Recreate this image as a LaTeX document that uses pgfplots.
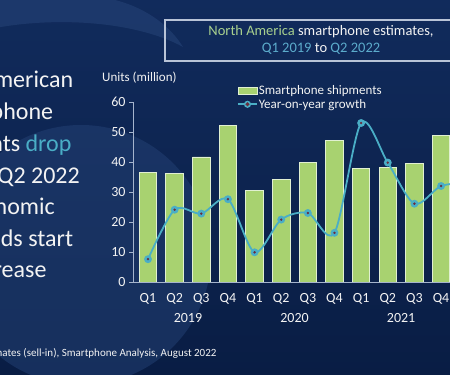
\documentclass[border=0pt]{standalone}
\usepackage{pgfplots}
\usepackage{pgfplotstable}
\pgfplotsset{compat=1.18}
\usepackage{fontspec}
\setmainfont{Carlito}
\definecolor{bgtop}{RGB}{17,43,92}
\definecolor{bgbot}{RGB}{9,29,68}
\definecolor{bglight}{RGB}{36,66,118}
\definecolor{barg}{RGB}{168,210,112}
\definecolor{barb}{RGB}{225,240,210}
\definecolor{tealc}{RGB}{74,174,198}
\definecolor{dotc}{RGB}{105,45,62}
\definecolor{axc}{RGB}{165,180,205}
\definecolor{titlegreen}{RGB}{168,208,142}
\definecolor{titleblue}{RGB}{92,172,204}
\definecolor{boxc}{RGB}{185,196,215}
\definecolor{txt}{RGB}{243,243,243}

\pgfplotstableread{
x ship
0 36.4
1 36.1
2 41.7
3 52.3
4 30.6
5 34.1
6 39.8
7 47.2
8 37.9
9 38.3
10 39.5
11 49.0
}\shipdata

\pgfplotstableread{
x yoy
0 7.6
1 24.1
2 22.8
3 27.6
4 9.9
5 20.8
6 23.0
7 16.4
8 53.0
9 39.8
10 26.1
11 32.0
12 33.0
}\yoydata

\begin{document}
\begin{tikzpicture}[x=1pt,y=1pt]
\useasboundingbox (0,0) rectangle (450,375);
\clip (0,0) rectangle (450,375);
\fill[top color=bgtop, bottom color=bgbot] (0,0) rectangle (450,375);
\fill[bglight, opacity=0.5] (81,120) circle (130);
\fill[bglight, opacity=0.6] (-10,375) -- (115,375) .. controls (150,366) and (172,346) .. (183,328) .. controls (140,352) and (60,360) .. (-10,346) -- cycle;

\begin{axis}[
  at={(133pt,93pt)}, anchor=south west,
  scale only axis, width=334.7pt, height=180pt,
  xmin=-0.563, xmax=12, ymin=0, ymax=60,
  clip mode=individual,
  axis x line*=bottom, axis y line*=left,
  axis line style={draw=axc, line width=0.9pt},
  ytick={0,10,...,60},
  tick align=outside, major tick length=4pt,
  ytick style={draw=axc, line width=0.8pt},
  xtick={0,...,11},
  xticklabels={Q1,Q2,Q3,Q4,Q1,Q2,Q3,Q4,Q1,Q2,Q3,Q4},
  xtick style={draw=none},
  ticklabel style={font=\fontsize{14}{16}\selectfont, text=txt},
  xticklabel style={anchor=base, yshift=-17pt},
  /pgf/number format/assume math mode=true,
  legend style={at={(0.3107,1.1)}, anchor=north west, draw=none, fill=none,
    font=\fontsize{13}{14}\selectfont, text=txt, inner sep=0pt, row sep=1.3pt,
    nodes={inner sep=1pt},
    /tikz/every odd column/.append style={column sep=0pt}},
  legend cell align=left,
]
\addplot[ybar, bar width=17.5pt, fill=barg, draw=barb, line width=0.8pt,
  legend image code/.code={\draw[fill=barg, draw=barb, line width=0.6pt] (0pt,-3.5pt) rectangle (19pt,3.5pt);}]
  table[x=x,y=ship] {\shipdata};
\addlegendentry{Smartphone shipments}
\addplot[smooth, tension=0.5, tealc, line width=1.8pt, mark=*, mark size=3pt,
  mark options={fill=tealc, draw=tealc},
  legend image code/.code={\draw[tealc, line width=1.6pt] (0pt,0pt) -- (19pt,0pt); \fill[tealc] (9.5pt,0pt) circle (2.6pt); \fill[dotc] (9.5pt,0pt) circle (0.9pt);}]
  table[x=x,y=yoy] {\yoydata};
\addlegendentry{Year-on-year growth}
\addplot[only marks, mark=*, mark size=1.0pt, dotc, forget plot] table[x=x,y=yoy] {\yoydata};
\node[font=\fontsize{14}{16}\selectfont, text=txt, anchor=base] at (axis cs:1.5,0) [yshift=-41pt] {2019};
\node[font=\fontsize{14}{16}\selectfont, text=txt, anchor=base] at (axis cs:5.5,0) [yshift=-41pt] {2020};
\node[font=\fontsize{14}{16}\selectfont, text=txt, anchor=base] at (axis cs:9.5,0) [yshift=-41pt] {2021};
\end{axis}

% units label
\node[font=\fontsize{13}{15}\selectfont, text=txt, anchor=base west, inner sep=0pt] at (102,293.3) {Units (million)};

% title box
\draw[boxc, line width=1.1pt] (165,314) rectangle (478,355);
\node[font=\fontsize{14.5}{17}\selectfont, text=txt, anchor=base, inner sep=0pt] at (321,339.3) {\textcolor{titlegreen}{North America} smartphone estimates,};
\node[font=\fontsize{14.5}{17}\selectfont, text=txt, anchor=base, inner sep=0pt] at (321,322.7) {\textcolor{titleblue}{Q1 2019} to \textcolor{titleblue}{Q2 2022}};

% headline (cropped on left)
\begin{scope}[every node/.style={font=\fontsize{24}{28}\selectfont, text=txt, anchor=base east, inner sep=0pt}]
\node at (73.3,287) {North American};
\node at (53.3,255) {smartphone};
\node at (71.7,223) {shipments \textcolor{tealc}{drop}};
\node at (80,191) {in Q2 2022};
\node at (55,160) {as economic};
\node at (73.3,128) {headwinds start};
\node at (46.7,97) {to increase};
\end{scope}

% source
\node[font=\fontsize{11}{13}\selectfont, text=txt, anchor=base east, inner sep=0pt] at (216.7,19) {Source: Canalys estimates (sell-in), Smartphone Analysis, August 2022};
\end{tikzpicture}
\end{document}
